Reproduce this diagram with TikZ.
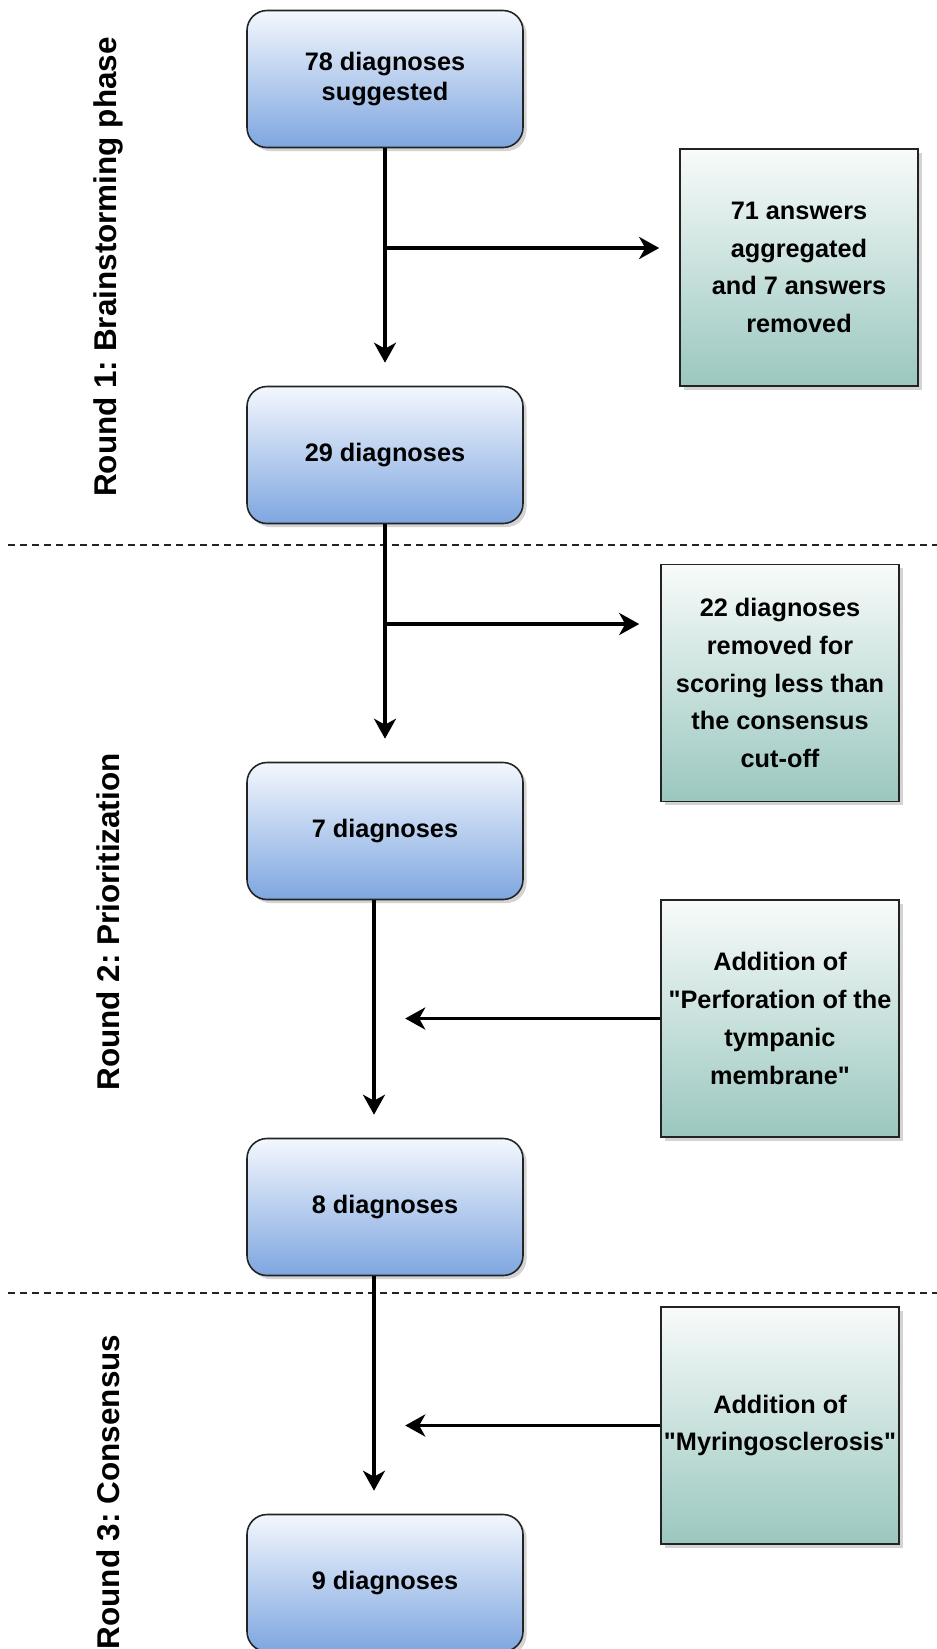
\documentclass[tikz,border=0pt]{standalone}
\usepackage{fontspec}
\setmainfont{Liberation Sans}[Ligatures=TeXOff]
\usepackage{xcolor}
\usepackage{tikz}
\usetikzlibrary{shapes,arrows.meta,positioning,calc,shadows}
\definecolor{diagtop}{RGB}{243, 247, 253}
\definecolor{diagbottom}{RGB}{126, 166, 224}
\definecolor{notetop}{RGB}{248, 251, 250}
\definecolor{notebottom}{RGB}{154, 199, 191}
\definecolor{edgegray}{RGB}{35, 35, 35}
\frenchspacing

\begin{document}
\begin{tikzpicture}[
    diagbox/.style={draw=edgegray, line width=0.9pt, rounded corners=0.4cm, top color=diagtop, bottom color=diagbottom,
        minimum width=5.52cm, minimum height=2.74cm, align=center, font=\fontsize{14.4}{17.4}\selectfont\bfseries,
        drop shadow={shadow xshift=0.07cm, shadow yshift=-0.07cm, opacity=0.35}},
    notebox/.style={draw=edgegray, line width=0.9pt, top color=notetop, bottom color=notebottom,
        minimum width=4.76cm, minimum height=4.74cm, inner sep=0pt, align=center, font=\fontsize{14.4}{21.5}\selectfont\bfseries,
        drop shadow={shadow xshift=0.07cm, shadow yshift=-0.07cm, opacity=0.35}},
    flow/.style={line width=2pt, -{Stealth[length=0.4cm, width=0.44cm, inset=0.12cm]}},
    phase/.style={rotate=90, font=\fontsize{17.9}{20}\selectfont\bfseries},
    phaseline/.style={dash pattern=on 0.14cm off 0.1cm, line width=0.9pt, edgegray}
]
    \useasboundingbox (0,0) rectangle (18.74,-32.98);

    % main column
    \node[diagbox] (d78) at (7.70,-1.58) {78 diagnoses\\suggested};
    \node[diagbox] (d29) at (7.70,-9.10) {29 diagnoses};
    \node[diagbox] (d7) at (7.70,-16.62) {7 diagnoses};
    \node[diagbox] (d8) at (7.70,-24.14) {8 diagnoses};
    \node[diagbox] (d9) at (7.70,-31.66) {9 diagnoses};

    % side notes
    \node[notebox] (agg) at (15.98,-5.35) {71 answers\\aggregated\\and 7 answers\\removed};
    \node[notebox] (cut) at (15.60,-13.66) {22 diagnoses\\removed for\\scoring less than\\the consensus\\cut-off};
    \node[notebox] (perf) at (15.60,-20.37) {Addition of\\"Perforation of the\\tympanic\\membrane"};
    \node[notebox] (myr) at (15.60,-28.51) {Addition of\\"Myringosclerosis"};

    % phases
    \node[phase] (r1) at (2.16,-5.34) {Round 1: Brainstorming phase};
    \node[phase] (r2) at (2.16,-18.44) {Round 2: Prioritization};
    \node[phase] (r3) at (2.16,-29.84) {Round 3: Consensus};
    \draw[phaseline] (0.16,-10.90) -- (18.74,-10.90);
    \draw[phaseline] (0.16,-25.86) -- (18.74,-25.86);

    % arrows
    \coordinate (b1) at (7.70,-4.96);
    \coordinate (b2) at (7.70,-12.48);
    \draw[flow] (d78.south) -- ([yshift=0.46cm]d29.north);
    \draw[flow] (b1) -- ($(b1 -| agg.west)+(-0.4,0)$);
    \draw[flow] (d29.south) -- ([yshift=0.46cm]d7.north);
    \draw[flow] (b2) -- ($(b2 -| cut.west)+(-0.42,0)$);
    \draw[flow] ([xshift=-0.22cm]d7.south) -- ([xshift=-0.22cm,yshift=0.46cm]d8.north);
    \draw[flow] (perf.west) -- ($(perf.west)+(-5.1,0)$);
    \draw[flow] ([xshift=-0.22cm]d8.south) -- ([xshift=-0.22cm,yshift=0.46cm]d9.north);
    \draw[flow] (myr.west) -- ($(myr.west)+(-5.1,0)$);
\end{tikzpicture}
\end{document}
